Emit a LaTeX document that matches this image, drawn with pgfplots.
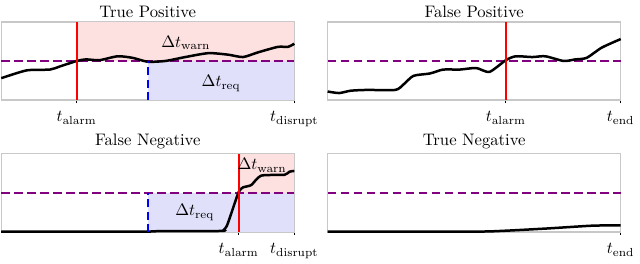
\documentclass[border=0pt]{standalone}
\usepackage{pgfplots}
\pgfplotsset{compat=1.18}
\definecolor{pinkfill}{HTML}{FDE0E0}
\definecolor{bluefill}{HTML}{E0E0FA}
\definecolor{framegray}{HTML}{C8C8C8}
\definecolor{thrpurple}{HTML}{800080}
\pgfplotsset{
  panel/.style={
    scale only axis, width=176pt, height=47pt,
    xmin=0, xmax=1, ymin=0, ymax=1,
    axis line style={framegray, line width=0.8pt},
    ytick=\empty,
    xtick pos=bottom, tick align=outside,
    major tick length=1.8pt,
    every tick/.style={black, line width=0.5pt},
    xticklabel style={yshift=-1.5pt},
    title style={yshift=-6.8pt},
    clip=false,
  },
  curve/.style={black, line width=1.5pt, smooth, tension=0.4},
  thr/.style={thrpurple, line width=1.3pt, dash pattern=on 5.2pt off 2.6pt},
  alarm/.style={red, line width=1.2pt},
  req/.style={blue, line width=1.2pt, dash pattern=on 4.8pt off 2.6pt},
}
\begin{document}
\begin{tikzpicture}
% True Positive
\begin{axis}[panel, at={(0,79.2pt)}, anchor=south west, title={True Positive},
  xtick={0.257,1}, xticklabels={$t_{\mathrm{alarm}}$,$t_{\mathrm{disrupt}}$}]
\addplot[fill=pinkfill, draw=none] coordinates {(0.257,0.5) (1,0.5) (1,1) (0.257,1)} -- cycle;
\addplot[fill=bluefill, draw=none] coordinates {(0.5,0) (1,0) (1,0.5) (0.5,0.5)} -- cycle;
\addplot[thr] coordinates {(0,0.5) (1,0.5)};
\addplot[curve] coordinates {(0,0.28) (0.087,0.38) (0.166,0.39) (0.2,0.43) (0.258,0.5) (0.29,0.52) (0.335,0.51) (0.397,0.56) (0.448,0.54) (0.5,0.49) (0.56,0.5) (0.628,0.55) (0.707,0.6) (0.775,0.58) (0.825,0.55) (0.876,0.61) (0.944,0.68) (0.978,0.68) (1,0.72)};
\addplot[alarm] coordinates {(0.257,0) (0.257,1)};
\addplot[req] coordinates {(0.5,0) (0.5,0.5)};
\node at (axis cs:0.63,0.73) {$\Delta t_{\mathrm{warn}}$};
\node at (axis cs:0.75,0.21) {$\Delta t_{\mathrm{req}}$};
\end{axis}
% False Positive
\begin{axis}[panel, at={(196pt,79.2pt)}, anchor=south west, title={False Positive},
  xtick={0.608,1}, xticklabels={$t_{\mathrm{alarm}}$,$t_{\mathrm{end}}$}]
\addplot[thr] coordinates {(0,0.5) (1,0.5)};
\addplot[curve] coordinates {(0,0.11) (0.039,0.09) (0.079,0.12) (0.135,0.13) (0.231,0.13) (0.259,0.2) (0.293,0.31) (0.349,0.34) (0.394,0.39) (0.45,0.39) (0.507,0.41) (0.552,0.36) (0.608,0.51) (0.642,0.56) (0.698,0.55) (0.743,0.56) (0.805,0.5) (0.845,0.52) (0.884,0.54) (0.935,0.67) (1,0.78)};
\addplot[alarm] coordinates {(0.608,0) (0.608,1)};
\end{axis}
% False Negative
\begin{axis}[panel, at={(0,0)}, anchor=south west, title={False Negative},
  xtick={0.81,1}, xticklabels={$t_{\mathrm{alarm}}$,$t_{\mathrm{disrupt}}$}]
\addplot[fill=pinkfill, draw=none] coordinates {(0.81,0.5) (1,0.5) (1,1) (0.81,1)} -- cycle;
\addplot[fill=bluefill, draw=none] coordinates {(0.5,0) (1,0) (1,0.5) (0.5,0.5)} -- cycle;
\addplot[thr] coordinates {(0,0.5) (1,0.5)};
\addplot[curve, smooth=false] coordinates {(0,0.005) (0.2,0.004) (0.49,0.005) (0.55,0.012) (0.75,0.013) (0.76,0.03) (0.77,0.08) (0.786,0.25) (0.81,0.51) (0.825,0.57) (0.853,0.6) (0.887,0.72) (0.966,0.73) (0.983,0.77) (1,0.78)};
\addplot[alarm] coordinates {(0.81,0) (0.81,1)};
\addplot[req] coordinates {(0.5,0) (0.5,0.5)};
\node at (axis cs:0.89,0.85) {$\Delta t_{\mathrm{warn}}$};
\node at (axis cs:0.66,0.25) {$\Delta t_{\mathrm{req}}$};
\end{axis}
% True Negative
\begin{axis}[panel, at={(196pt,0)}, anchor=south west, title={True Negative},
  xtick={1}, xticklabels={$t_{\mathrm{end}}$}]
\addplot[thr] coordinates {(0,0.5) (1,0.5)};
\addplot[curve, smooth=false] coordinates {(0,0.005) (0.5,0.005) (0.6,0.015) (0.75,0.045) (0.9,0.08) (1,0.086)};
\end{axis}
\end{tikzpicture}
\end{document}
